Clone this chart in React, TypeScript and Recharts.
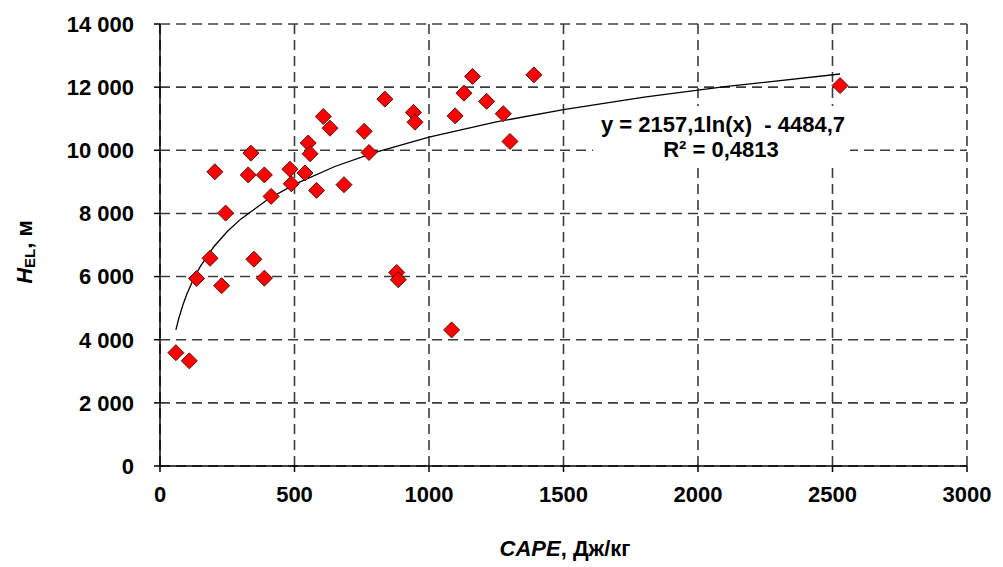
import { ScatterChart, Scatter, XAxis, YAxis, CartesianGrid, ReferenceArea, Label } from 'recharts';

// CAPE (J/kg) vs equilibrium level height (m)
const CAPE = [59, 109, 136, 186, 204, 229, 244, 328, 338, 349, 388, 388, 413, 483, 488, 539, 551, 558, 582, 607, 632, 684, 759, 777, 836, 880, 886, 942, 948, 1084, 1097, 1130, 1162, 1214, 1276, 1301, 1390, 2528];
const H_EL = [3590, 3330, 5940, 6580, 9320, 5710, 8010, 9220, 9910, 6550, 9220, 5950, 8540, 9400, 8940, 9280, 10230, 9890, 8730, 11070, 10700, 8910, 10600, 9930, 11620, 6130, 5900, 11200, 10890, 4310, 11090, 11810, 12340, 11550, 11160, 10280, 12390, 12050];

// logarithmic trendline shown on the chart: y = 2157,1 ln(x) - 4484,7
const TREND_A = 2157.1;
const TREND_B = -4484.7;
const TREND_X = [59, 70, 85, 100, 125, 150, 200, 250, 300, 400, 500, 650, 800, 1000, 1250, 1500, 1800, 2100, 2528];

const X_TICKS = [0, 500, 1000, 1500, 2000, 2500, 3000];
const Y_TICKS = [0, 2000, 4000, 6000, 8000, 10000, 12000, 14000];

const FONT = 'Liberation Sans, Arial, sans-serif';
const TICK_STYLE = { fill: '#000', fontSize: 22, fontWeight: 'bold', fontFamily: FONT };

const points = CAPE.map((x, i) => ({ x, y: H_EL[i] }));
const trend = TREND_X.map(x => ({ x, y: TREND_A * Math.log(x) + TREND_B }));

const fmtY = (v: number) => (v >= 1000 ? `${Math.floor(v / 1000)} ${String(v % 1000).padStart(3, '0')}` : String(v));

function Diamond(props: any) {
  const { cx, cy } = props;
  const r = 8;
  return (
    <polygon
      points={`${cx},${cy - r} ${cx + r},${cy} ${cx},${cy + r} ${cx - r},${cy}`}
      fill="#ff0000"
      stroke="#5a1010"
      strokeWidth={1}
    />
  );
}

export default function App() {
  return (
    <div style={{ position: 'absolute', left: 0, top: 0, width: 1003, height: 567, background: '#fff' }}>
      <ScatterChart width={1003} height={567} margin={{ top: 24, right: 36, bottom: 41, left: 60 }}>
        <CartesianGrid stroke="#3c3c3c" strokeWidth={1.6} strokeDasharray="10 6" horizontalValues={Y_TICKS} verticalValues={X_TICKS} />
        <XAxis
          type="number"
          dataKey="x"
          domain={[0, 3000]}
          ticks={X_TICKS}
          height={60}
          stroke="#000"
          strokeWidth={1.5}
          tickSize={6}
          tickMargin={14}
          tick={TICK_STYLE}
          allowDataOverflow
        >
          <Label
            content={() => (
              <text x={565} y={556} textAnchor="middle" fontFamily={FONT} fontSize={22} fontWeight="bold" fill="#000">
                <tspan fontStyle="italic">CAPE</tspan>
                <tspan>, Дж/кг</tspan>
              </text>
            )}
          />
        </XAxis>
        <YAxis
          type="number"
          dataKey="y"
          domain={[0, 14000]}
          ticks={Y_TICKS}
          width={100}
          stroke="#000"
          strokeWidth={1.5}
          tickSize={6}
          tickMargin={20}
          tickFormatter={fmtY}
          tick={TICK_STYLE}
          allowDataOverflow
        >
          <Label
            content={() => (
              <text x={32} y={252} transform="rotate(-90 32 252)" textAnchor="middle" fontFamily={FONT} fontSize={22} fontWeight="bold" fill="#000">
                <tspan fontStyle="italic">H</tspan>
                <tspan fontSize={15} dy={3}>EL</tspan>
                <tspan dy={-3}>, м</tspan>
              </text>
            )}
          />
        </YAxis>
        <ReferenceArea
          x1={1610}
          x2={2565}
          y1={9630}
          y2={11400}
          fill="#fff"
          fillOpacity={1}
          stroke="none"
          ifOverflow="visible"
          label={() => (
            <g fontFamily={FONT} fontSize={22} fontWeight="bold" fill="#000">
              <text x={723} y={132} textAnchor="middle" xmlSpace="preserve">y = 2157,1ln(x)  - 4484,7</text>
              <text x={721} y={157} textAnchor="middle">R² = 0,4813</text>
            </g>
          )}
        />
        <Scatter data={trend} line={{ stroke: '#000', strokeWidth: 1.3 }} shape={() => null} isAnimationActive={false} />
        <Scatter data={points} shape={<Diamond />} isAnimationActive={false} />
      </ScatterChart>
    </div>
  );
}
